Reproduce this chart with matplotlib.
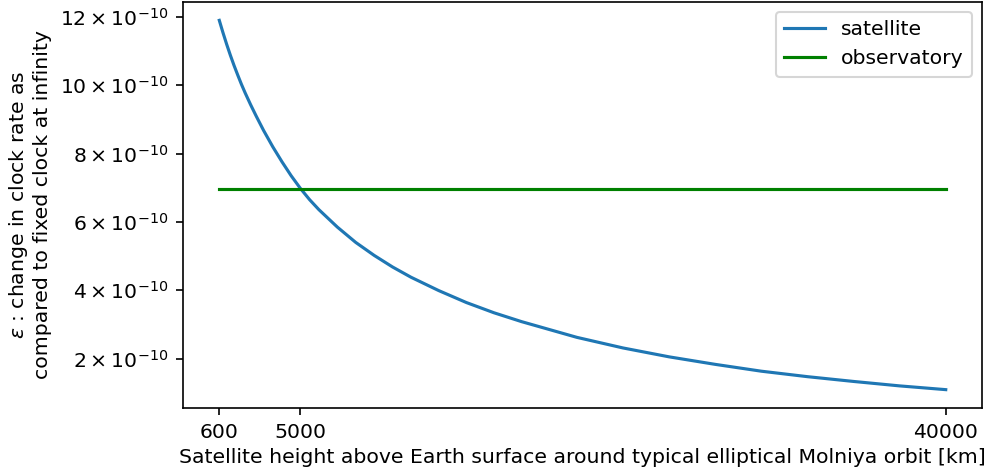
import matplotlib
matplotlib.use("Agg")
import matplotlib.pyplot as plt
from matplotlib.ticker import FuncFormatter

# heights above Earth surface [km] and clock rate change (in units of 1e-10)
height_km = [600, 700, 800, 900, 1000, 1200, 1400, 1600, 1800, 2000,
             2300, 2600, 3000, 3500, 4000, 4500, 5000, 5500, 6000, 7000,
             8000, 9000, 10000, 11000, 12500, 14000, 15500, 17000, 18500, 20000,
             22500, 25000, 27500, 30000, 32500, 35000, 37500, 40000]
eps_satellite = [11.90, 11.72, 11.54, 11.37, 11.20, 10.88, 10.58, 10.30, 10.03, 9.78,
                 9.43, 9.10, 8.68, 8.20, 7.76, 7.35, 6.98, 6.65, 6.36, 5.85,
                 5.40, 5.02, 4.68, 4.38, 3.99, 3.64, 3.34, 3.08, 2.85, 2.62,
                 2.31, 2.05, 1.83, 1.63, 1.47, 1.33, 1.20, 1.09]

obs_height_km = [600, 40000]
eps_observatory = [6.96, 6.96]

x_ticks = [600, 5000, 40000]

plt.rcParams['font.size'] = 9.8

fig = plt.figure(figsize=(989 / 150, 474 / 150), dpi=150)
ax = fig.add_subplot(111)
fig.subplots_adjust(left=0.185, right=0.993, top=0.996, bottom=0.139)

# We scale the values back to their real size before plotting
ax.plot(height_km, [v * 1e-10 for v in eps_satellite], label="satellite")
ax.plot(obs_height_km, [v * 1e-10 for v in eps_observatory], color="green", label="observatory")

ax.set_xticks(x_ticks)
ax.yaxis.set_major_formatter(FuncFormatter(lambda v, pos: r"$%d\times10^{-10}$" % round(v / 1e-10)))

ax.set_xlabel("Satellite height above Earth surface around typical elliptical Molniya orbit [km]", labelpad=3)
ax.set_ylabel("$\\epsilon$ : change in clock rate as\ncompared to fixed clock at infinity", labelpad=4)
ax.legend(loc="upper right")

plt.savefig("out.png", dpi=150)
plt.close()
